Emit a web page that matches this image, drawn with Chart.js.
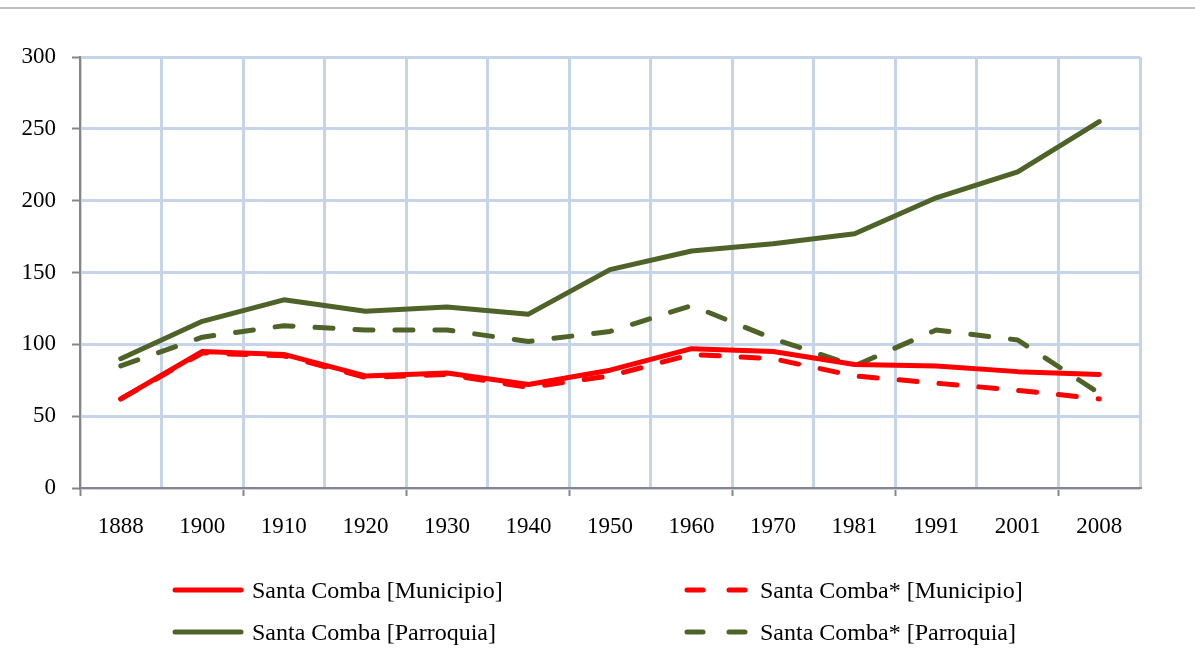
<!DOCTYPE html>
<html>
<head>
<meta charset="utf-8">
<script src="https://cdn.jsdelivr.net/npm/chart.js@4/dist/chart.umd.min.js"></script>
<style>
  html, body { margin: 0; padding: 0; background: #fff; }
  body { width: 1195px; height: 666px; position: relative; overflow: hidden; }
  #topline { position: absolute; left: 0; top: 7px; width: 1195px; height: 2px; background: #c0c0c0; }
  #wrap { position: absolute; left: 0; top: 0; width: 1195px; height: 666px; }
  .leg { position: absolute; font-family: "Liberation Serif", "Times New Roman", serif; font-size: 24px; color: #000; display: flex; align-items: center; height: 30px; }
  .leg svg { margin-right: 8px; }
</style>
</head>
<body>
<div id="topline"></div>
<div id="wrap"><canvas id="c" width="1195" height="666"></canvas></div>
<div id="legend"></div>
<script>
const categories = ["1888","1900","1910","1920","1930","1940","1950","1960","1970","1981","1991","2001","2008"];
const yTicks = [0, 50, 100, 150, 200, 250, 300];
const municipio      = [62, 95, 93, 78, 80, 72, 82, 97, 95, 86, 85, 81, 79];
const municipioStar  = [62, 94, 92, 77, 79, 70, 78, 93, 90, 78, 73, 68, 62];
const parroquia      = [90, 116, 131, 123, 126, 121, 152, 165, 170, 177, 202, 220, 255];
const parroquiaStar  = [85, 105, 113, 110, 110, 102, 109, 127, 104, 85, 110, 103, 66];
const seriesLabels = ["Santa Comba [Municipio]", "Santa Comba* [Municipio]", "Santa Comba [Parroquia]", "Santa Comba* [Parroquia]"];

const RED = "#ff0000", GREEN = "#4f6228";
const DASH = [18, 22];
const font = { family: "'Liberation Serif', 'Times New Roman', serif", size: 23 };

const ds = (label, data, color, dashed, order) => ({
  label, data, borderColor: color, backgroundColor: color, borderWidth: 5,
  borderDash: dashed ? DASH : [], borderCapStyle: "round",
  borderJoinStyle: "round", pointRadius: 0, tension: 0, fill: false, order
});

new Chart(document.getElementById("c"), {
  type: "line",
  data: {
    labels: categories,
    datasets: [
      ds(seriesLabels[0], municipio, RED, false, 1),
      ds(seriesLabels[1], municipioStar, RED, true, 2),
      ds(seriesLabels[2], parroquia, GREEN, false, 3),
      ds(seriesLabels[3], parroquiaStar, GREEN, true, 4)
    ]
  },
  options: {
    responsive: false,
    animation: false,
    layout: { padding: { left: 0, top: 57, right: 55, bottom: 118 } },
    plugins: { legend: { display: false }, tooltip: { enabled: false } },
    scales: {
      x: {
        offset: true,
        grid: {
          offset: true,
          color: "#c6d4ea",
          lineWidth: 3,
          drawTicks: true,
          tickLength: 8,
          tickWidth: 2,
          tickColor: (ctx) => (ctx.index % 2 === 0 ? "#868686" : "rgba(0,0,0,0)")
        },
        border: { color: "#868686", width: 2 },
        ticks: { color: "#000", font, padding: 17, maxRotation: 0, autoSkip: false },
        afterFit: (s) => { s.height = 60; }
      },
      y: {
        min: 0, max: 300,
        afterBuildTicks: (s) => { s.ticks = yTicks.map(v => ({ value: v })); },
        grid: {
          color: "#c6d4ea",
          lineWidth: 3,
          tickLength: 8,
          tickWidth: 2,
          tickColor: "#868686"
        },
        border: { color: "#868686", width: 2 },
        ticks: { color: "#000", font, padding: 16 },
        afterFit: (s) => { s.width = 80; }
      }
    }
  }
});

// HTML legend
const legendPos = [
  { x: 172, y: 575, dashed: false, color: RED },
  { x: 684, y: 575, dashed: true, color: RED },
  { x: 172, y: 617, dashed: false, color: GREEN },
  { x: 684, y: 617, dashed: true, color: GREEN }
];
const legend = document.getElementById("legend");
seriesLabels.forEach((lbl, i) => {
  const p = legendPos[i];
  const d = document.createElement("div");
  d.className = "leg";
  d.style.left = p.x + "px";
  d.style.top = p.y + "px";
  const w = p.dashed ? 68 : 72;
  const line = p.dashed
    ? `<line x1="3" y1="5" x2="${w-3}" y2="5" stroke="${p.color}" stroke-width="5" stroke-linecap="round" stroke-dasharray="16 26"/>`
    : `<line x1="3" y1="5" x2="${w-3}" y2="5" stroke="${p.color}" stroke-width="5" stroke-linecap="round"/>`;
  d.innerHTML = `<svg width="${w}" height="10">${line}</svg><span>${lbl}</span>`;
  legend.appendChild(d);
});
</script>
</body>
</html>
